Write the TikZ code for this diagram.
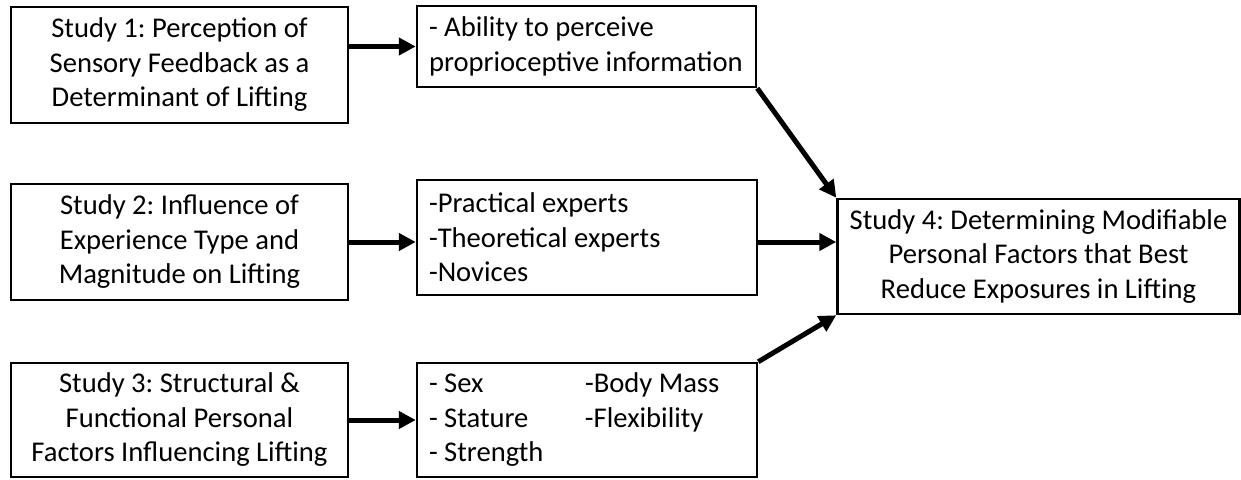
\documentclass[tikz,border=0pt]{standalone}
\usepackage{fontspec}
\setmainfont{Carlito}
\usetikzlibrary{arrows.meta}
\frenchspacing
\begin{document}
\begin{tikzpicture}[x=1pt,y=-1pt,
  box/.style={draw=black, line width=2.5pt, fill=white, inner sep=0pt,
    font=\fontsize{28.6}{34.5}\selectfont\frenchspacing},
  cbox/.style={box, align=center},
  lbox/.style={box, align=flush left, inner xsep=12pt},
  conn/.style={line width=5pt, -{Triangle[length=17pt,width=17pt]}}
]
\useasboundingbox (0,0) rectangle (1241,479);
% left column
\node[cbox, minimum width=337pt, minimum height=116pt] (b1) at (179.5,65)
  {Study 1: Perception of\\Sensory Feedback as a\\Determinant of Lifting};
\node[cbox, minimum width=337pt, minimum height=116pt] (b2) at (179.5,242)
  {Study 2: Influence of\\Experience Type and\\Magnitude on Lifting};
\node[cbox, minimum width=337pt, minimum height=114pt] (b3) at (179.5,420)
  {Study 3: Structural \&\\Functional Personal\\Factors Influencing Lifting};
% middle column
\node[lbox, text width=315pt, minimum height=81pt] (a1) at (586.5,46.5)
  {- Ability to perceive\\proprioceptive information};
\node[lbox, text width=316pt, minimum height=115pt] (a2) at (587,237.5)
  {-Practical experts\\-Theoretical experts\\-Novices};
\node[lbox, text width=316pt, minimum height=114pt] (a3) at (587,420)
  {\makebox[156pt][l]{- Sex}-Body Mass\\\makebox[156pt][l]{- Stature}-Flexibility\\- Strength};
% right
\node[cbox, minimum width=402pt, minimum height=115pt] (s4) at (1038.5,256.5)
  {Study 4: Determining Modifiable\\Personal Factors that Best\\Reduce Exposures in Lifting};
% connectors
\draw[conn] (b1.east |- a1.west) -- (a1.west);
\draw[conn] (b2.east) -- (a2.west |- b2.east);
\draw[conn] (b3.east) -- (a3.west |- b3.east);
\draw[conn] (a2.east |- b2.east) -- (s4.west |- b2.east);
\draw[conn] (a1.south east) -- (s4.north west);
\draw[conn] (a3.north east) -- (s4.south west);
\end{tikzpicture}
\end{document}
